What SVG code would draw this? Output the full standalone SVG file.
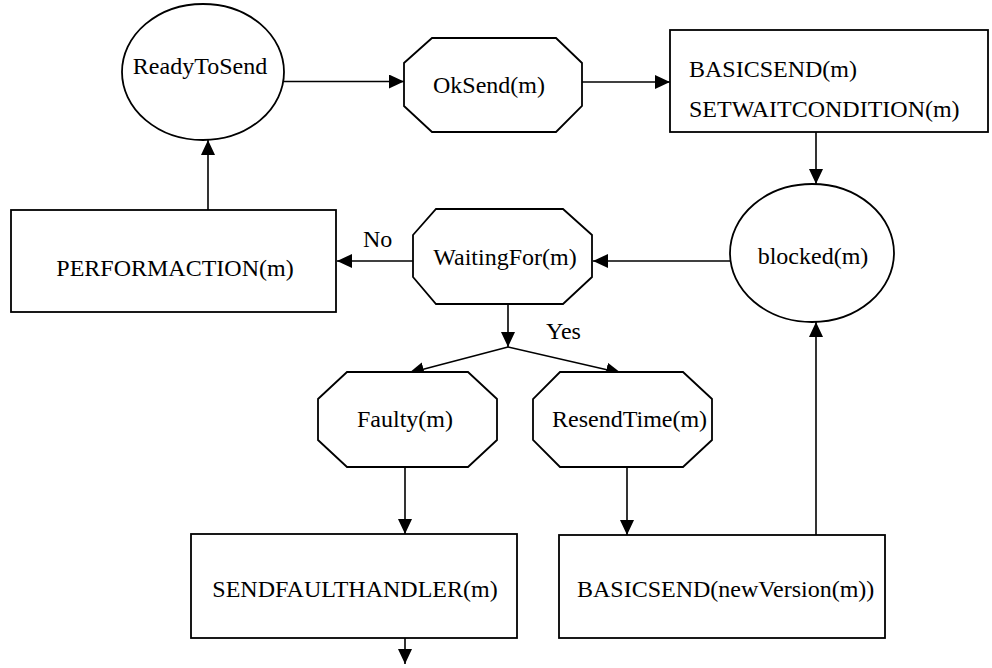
<svg xmlns="http://www.w3.org/2000/svg" width="992" height="668" viewBox="0 0 992 668">
<style>
.s{fill:#fff;stroke:#000;stroke-width:1.8}
.t{font-family:"Liberation Serif","Times New Roman",serif;font-size:24px;fill:#000}
.m{text-anchor:middle}
.c{fill:none;stroke:#000;stroke-width:1.6}
</style>
<defs>
<marker id="ah" markerUnits="userSpaceOnUse" markerWidth="16" markerHeight="14" refX="15" refY="7" orient="auto">
<path d="M0,0 L15,7 L0,14 z" fill="#000"/>
</marker>
</defs>
<rect width="992" height="668" fill="#fff"/>
<g id="connectors">
<line class="c" x1="284" y1="81.5" x2="404" y2="81.5" marker-end="url(#ah)"/>
<line class="c" x1="582" y1="82" x2="670" y2="82" marker-end="url(#ah)"/>
<line class="c" x1="816" y1="132" x2="816" y2="184" marker-end="url(#ah)"/>
<line class="c" x1="730" y1="261" x2="593" y2="261" marker-end="url(#ah)"/>
<line class="c" x1="413" y1="261" x2="337" y2="261" marker-end="url(#ah)"/>
<line class="c" x1="208" y1="210" x2="208" y2="140" marker-end="url(#ah)"/>
<line class="c" x1="508" y1="304" x2="508" y2="347" marker-end="url(#ah)"/>
<line class="c" x1="508" y1="347" x2="409" y2="373" marker-end="url(#ah)"/>
<line class="c" x1="508" y1="347" x2="621" y2="373" marker-end="url(#ah)"/>
<line class="c" x1="405" y1="467" x2="405" y2="534" marker-end="url(#ah)"/>
<line class="c" x1="627" y1="467" x2="627" y2="535" marker-end="url(#ah)"/>
<line class="c" x1="816" y1="535" x2="816" y2="322" marker-end="url(#ah)"/>
<line class="c" x1="405" y1="638" x2="405" y2="664" marker-end="url(#ah)"/>
<text class="t" x="363" y="247">No</text>
<text class="t" x="546" y="339">Yes</text>
</g>
<g id="readyToSend">
<ellipse class="s" cx="203" cy="72" rx="81" ry="68"/>
<text class="t m" x="200" y="74">ReadyToSend</text>
</g>
<g id="okSend">
<polygon class="s" points="432,38 556,38 582,63 582,106 556,132 432,132 404,106 404,63"/>
<text class="t m" x="489" y="93">OkSend(m)</text>
</g>
<g id="basicSend">
<rect class="s" x="670" y="30" width="318" height="102"/>
<text class="t" x="689" y="77">BASICSEND(m)</text>
<text class="t" x="689" y="117">SETWAITCONDITION(m)</text>
</g>
<g id="blocked">
<ellipse class="s" cx="812" cy="253" rx="82" ry="69"/>
<text class="t m" x="813" y="264">blocked(m)</text>
</g>
<g id="waitingFor">
<polygon class="s" points="436,209 563,209 592,235 592,277 563,304 436,304 413,277 413,235"/>
<text class="t m" x="505" y="265">WaitingFor(m)</text>
</g>
<g id="performAction">
<rect class="s" x="11" y="210" width="325" height="102"/>
<text class="t m" x="175" y="276">PERFORMACTION(m)</text>
</g>
<g id="faulty">
<polygon class="s" points="347,372 468,372 497,399 497,440 468,467 347,467 318,440 318,399"/>
<text class="t m" x="405" y="427">Faulty(m)</text>
</g>
<g id="resendTime">
<polygon class="s" points="560,372 683,372 712,399 712,440 683,467 560,467 533,440 533,399"/>
<text class="t" x="552" y="427">ResendTime(m)</text>
</g>
<g id="sendFaultHandler">
<rect class="s" x="191" y="534" width="326" height="104"/>
<text class="t m" x="355" y="597">SENDFAULTHANDLER(m)</text>
</g>
<g id="basicSendNewVersion">
<rect class="s" x="559" y="535" width="326" height="103"/>
<text class="t" x="577" y="597">BASICSEND(newVersion(m))</text>
</g>
</svg>
